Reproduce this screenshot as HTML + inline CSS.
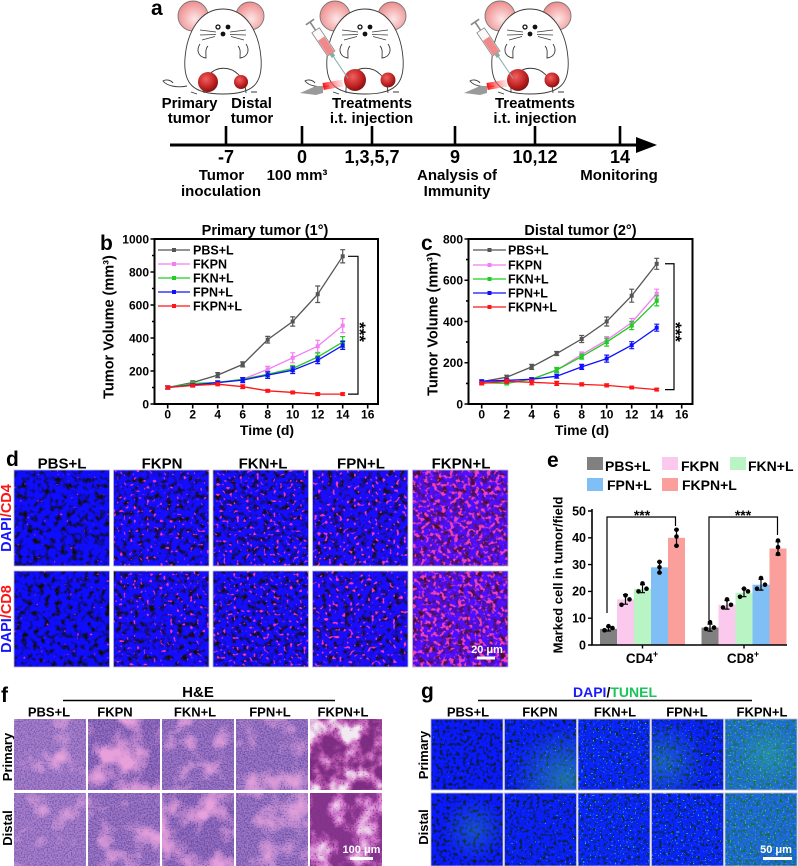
<!DOCTYPE html>
<html><head><meta charset="utf-8"><style>
html,body{margin:0;padding:0;background:#fff;}
svg{display:block;}
text{font-family:"Liberation Sans",Arial,sans-serif;font-weight:bold;}
</style></head><body>
<svg width="798" height="866" viewBox="0 0 798 866" xmlns="http://www.w3.org/2000/svg">
<defs>
<radialGradient id="ear" cx="0.55" cy="0.6" r="0.6"><stop offset="0" stop-color="#fde6e6"/><stop offset="1" stop-color="#ee8c8c"/></radialGradient>
<radialGradient id="tum" cx="0.4" cy="0.35" r="0.65"><stop offset="0" stop-color="#f06060"/><stop offset="0.6" stop-color="#c62828"/><stop offset="1" stop-color="#8a1010"/></radialGradient>
<linearGradient id="beam" x1="0" x2="1"><stop offset="0" stop-color="#ff1010"/><stop offset="1" stop-color="#ff9a9a" stop-opacity="0.3"/></linearGradient>
<radialGradient id="gg1" cx="0.85" cy="0.85" r="0.75"><stop offset="0" stop-color="#3ad27a" stop-opacity="0.45"/><stop offset="1" stop-color="#3ad27a" stop-opacity="0"/></radialGradient>
<radialGradient id="gg2" cx="0.15" cy="0.6" r="0.6"><stop offset="0" stop-color="#3ad27a" stop-opacity="0.35"/><stop offset="1" stop-color="#3ad27a" stop-opacity="0"/></radialGradient>
<radialGradient id="gg3" cx="0.6" cy="0.5" r="0.45"><stop offset="0" stop-color="#3ad27a" stop-opacity="0.28"/><stop offset="1" stop-color="#3ad27a" stop-opacity="0"/></radialGradient>

<marker id="mG" markerUnits="userSpaceOnUse" markerWidth="5" markerHeight="5" refX="2.5" refY="2.5" viewBox="0 0 5 5"><rect x="0.5" y="0.5" width="4" height="4" fill="#555"/></marker>
<marker id="mP" markerUnits="userSpaceOnUse" markerWidth="5" markerHeight="5" refX="2.5" refY="2.5" viewBox="0 0 5 5"><rect x="0.5" y="0.5" width="4" height="4" fill="#f27ef2"/></marker>
<marker id="mN" markerUnits="userSpaceOnUse" markerWidth="5" markerHeight="5" refX="2.5" refY="2.5" viewBox="0 0 5 5"><rect x="0.5" y="0.5" width="4" height="4" fill="#22cc22"/></marker>
<marker id="mB" markerUnits="userSpaceOnUse" markerWidth="5" markerHeight="5" refX="2.5" refY="2.5" viewBox="0 0 5 5"><rect x="0.5" y="0.5" width="4" height="4" fill="#1010ff"/></marker>
<marker id="mR" markerUnits="userSpaceOnUse" markerWidth="5" markerHeight="5" refX="2.5" refY="2.5" viewBox="0 0 5 5"><rect x="0.5" y="0.5" width="4" height="4" fill="#ff1515"/></marker>

<!-- d filters -->
<filter id="dF0" x="0" y="0" width="1" height="1" color-interpolation-filters="sRGB">
<feTurbulence type="fractalNoise" baseFrequency="0.18" numOctaves="2" seed="3" result="a"/>
<feColorMatrix in="a" type="matrix" values="0 0 0 0 0.06 0 0 0 0 0.05 3 0 0 0 -0.6 0 0 0 0 1" result="b"/>
<feTurbulence type="fractalNoise" baseFrequency="0.3" numOctaves="1" seed="11" result="c"/>
<feColorMatrix in="c" type="matrix" values="0 0 0 0 1 0 0 0 0 0.15 0 0 0 0 0.55 12 0 0 0 -8.5" result="p"/>
<feComposite in="p" in2="b" operator="over"/>
</filter>
<filter id="dF1" x="0" y="0" width="1" height="1" color-interpolation-filters="sRGB">
<feTurbulence type="fractalNoise" baseFrequency="0.18" numOctaves="2" seed="5" result="a"/>
<feColorMatrix in="a" type="matrix" values="0 0 0 0 0.08 0 0 0 0 0.05 3 0 0 0 -0.58 0 0 0 0 1" result="b"/>
<feTurbulence type="fractalNoise" baseFrequency="0.3" numOctaves="1" seed="17" result="c"/>
<feColorMatrix in="c" type="matrix" values="0 0 0 0 0.95 0 0 0 0 0.2 0 0 0 0 0.7 12 0 0 0 -7.7" result="p"/>
<feComposite in="p" in2="b" operator="over"/>
</filter>
<filter id="dF2" x="0" y="0" width="1" height="1" color-interpolation-filters="sRGB">
<feTurbulence type="fractalNoise" baseFrequency="0.19" numOctaves="2" seed="7" result="a"/>
<feColorMatrix in="a" type="matrix" values="0 0 0 0 0.08 0 0 0 0 0.05 3 0 0 0 -0.6 0 0 0 0 1" result="b"/>
<feTurbulence type="fractalNoise" baseFrequency="0.3" numOctaves="1" seed="23" result="c"/>
<feColorMatrix in="c" type="matrix" values="0 0 0 0 0.95 0 0 0 0 0.2 0 0 0 0 0.7 12 0 0 0 -7.6" result="p"/>
<feComposite in="p" in2="b" operator="over"/>
</filter>
<filter id="dF3" x="0" y="0" width="1" height="1" color-interpolation-filters="sRGB">
<feTurbulence type="fractalNoise" baseFrequency="0.18" numOctaves="2" seed="9" result="a"/>
<feColorMatrix in="a" type="matrix" values="0 0 0 0 0.1 0 0 0 0 0.05 3 0 0 0 -0.58 0 0 0 0 1" result="b"/>
<feTurbulence type="fractalNoise" baseFrequency="0.28" numOctaves="1" seed="29" result="c"/>
<feColorMatrix in="c" type="matrix" values="0 0 0 0 0.97 0 0 0 0 0.22 0 0 0 0 0.72 12 0 0 0 -7.4" result="p"/>
<feComposite in="p" in2="b" operator="over"/>
</filter>
<filter id="dF4" x="0" y="0" width="1" height="1" color-interpolation-filters="sRGB">
<feTurbulence type="fractalNoise" baseFrequency="0.17" numOctaves="2" seed="13" result="a"/>
<feColorMatrix in="a" type="matrix" values="0 0 0 0 0.3 0 0 0 0 0.06 2.6 0 0 0 -0.45 0 0 0 0 1" result="b"/>
<feTurbulence type="fractalNoise" baseFrequency="0.24" numOctaves="2" seed="31" result="c"/>
<feColorMatrix in="c" type="matrix" values="0 0 0 0 0.95 0 0 0 0 0.25 0 0 0 0 0.72 7 0 0 0 -3.7" result="p"/>
<feComposite in="p" in2="b" operator="over"/>
</filter>

<!-- g (TUNEL) filters -->
<filter id="gF0" x="0" y="0" width="1" height="1" color-interpolation-filters="sRGB">
<feTurbulence type="fractalNoise" baseFrequency="0.3" numOctaves="2" seed="41" result="a"/>
<feColorMatrix in="a" type="matrix" values="0 0 0 0 0.04 0 0 0 0 0.1 3 0 0 0 -0.55 0 0 0 0 1" result="b"/>
<feTurbulence type="fractalNoise" baseFrequency="0.6" numOctaves="1" seed="43" result="c"/>
<feColorMatrix in="c" type="matrix" values="0 0 0 0 0.15 0 0 0 0 0.85 0 0 0 0 0.45 14 0 0 0 -10.6" result="p"/>
<feComposite in="p" in2="b" operator="over"/>
</filter>
<filter id="gF1" x="0" y="0" width="1" height="1" color-interpolation-filters="sRGB">
<feTurbulence type="fractalNoise" baseFrequency="0.3" numOctaves="2" seed="45" result="a"/>
<feColorMatrix in="a" type="matrix" values="0 0 0 0 0.04 0 0 0 0 0.12 3 0 0 0 -0.55 0 0 0 0 1" result="b"/>
<feTurbulence type="fractalNoise" baseFrequency="0.6" numOctaves="1" seed="47" result="c"/>
<feColorMatrix in="c" type="matrix" values="0 0 0 0 0.15 0 0 0 0 0.85 0 0 0 0 0.45 14 0 0 0 -9.8" result="p"/>
<feComposite in="p" in2="b" operator="over"/>
</filter>
<filter id="gF2" x="0" y="0" width="1" height="1" color-interpolation-filters="sRGB">
<feTurbulence type="fractalNoise" baseFrequency="0.32" numOctaves="2" seed="49" result="a"/>
<feColorMatrix in="a" type="matrix" values="0 0 0 0 0.04 0 0 0 0 0.14 3 0 0 0 -0.5 0 0 0 0 1" result="b"/>
<feTurbulence type="fractalNoise" baseFrequency="0.6" numOctaves="1" seed="51" result="c"/>
<feColorMatrix in="c" type="matrix" values="0 0 0 0 0.15 0 0 0 0 0.85 0 0 0 0 0.7 14 0 0 0 -9.3" result="p"/>
<feComposite in="p" in2="b" operator="over"/>
</filter>
<filter id="gF3" x="0" y="0" width="1" height="1" color-interpolation-filters="sRGB">
<feTurbulence type="fractalNoise" baseFrequency="0.3" numOctaves="2" seed="53" result="a"/>
<feColorMatrix in="a" type="matrix" values="0 0 0 0 0.04 0 0 0 0 0.13 3 0 0 0 -0.55 0 0 0 0 1" result="b"/>
<feTurbulence type="fractalNoise" baseFrequency="0.6" numOctaves="1" seed="55" result="c"/>
<feColorMatrix in="c" type="matrix" values="0 0 0 0 0.15 0 0 0 0 0.85 0 0 0 0 0.65 14 0 0 0 -9.5" result="p"/>
<feComposite in="p" in2="b" operator="over"/>
</filter>
<filter id="gF4" x="0" y="0" width="1" height="1" color-interpolation-filters="sRGB">
<feTurbulence type="fractalNoise" baseFrequency="0.3" numOctaves="2" seed="57" result="a"/>
<feColorMatrix in="a" type="matrix" values="0 0 0 0 0.08 0 0 0 0 0.3 2.5 0 0 0 -0.35 0 0 0 0 1" result="b"/>
<feTurbulence type="fractalNoise" baseFrequency="0.6" numOctaves="1" seed="59" result="c"/>
<feColorMatrix in="c" type="matrix" values="0 0 0 0 0.2 0 0 0 0 0.8 0 0 0 0 0.45 12 0 0 0 -7.6" result="p"/>
<feComposite in="p" in2="b" operator="over"/>
</filter>

<!-- H&E filters -->
<filter id="hF0" x="0" y="0" width="1" height="1" color-interpolation-filters="sRGB">
<feTurbulence type="fractalNoise" baseFrequency="0.04" numOctaves="3" seed="2" result="m"/>
<feColorMatrix in="m" type="matrix" values="3 0 0 0 -1.7 3 0 0 0 -1.7 3 0 0 0 -1.7 0 0 0 0 1" result="g"/>
<feComponentTransfer in="g" result="base"><feFuncR type="table" tableValues="0.66 0.9"/><feFuncG type="table" tableValues="0.5 0.64"/><feFuncB type="table" tableValues="0.8 0.86"/></feComponentTransfer>
<feColorMatrix in="g" type="matrix" values="0 0 0 0 0 0 0 0 0 0 0 0 0 0 0 -1 0 0 0 1" result="mi"/>
<feTurbulence type="fractalNoise" baseFrequency="0.7" numOctaves="1" seed="9" result="s"/>
<feColorMatrix in="s" type="matrix" values="0 0 0 0 0 0 0 0 0 0 0 0 0 0 0 1 0 0 0 0" result="sa"/>
<feComposite in="sa" in2="mi" operator="arithmetic" k1="0" k2="4" k3="1.2" k4="-2.9" result="mask"/>
<feFlood flood-color="#7a5cb0" result="fl"/>
<feComposite in="fl" in2="mask" operator="in" result="dots"/>
<feComposite in="dots" in2="base" operator="over"/>
</filter>
<filter id="hF1" x="0" y="0" width="1" height="1" color-interpolation-filters="sRGB">
<feTurbulence type="fractalNoise" baseFrequency="0.035" numOctaves="3" seed="14" result="m"/>
<feColorMatrix in="m" type="matrix" values="3.2 0 0 0 -1.35 3.2 0 0 0 -1.35 3.2 0 0 0 -1.35 0 0 0 0 1" result="g"/>
<feComponentTransfer in="g" result="base"><feFuncR type="table" tableValues="0.6 0.91"/><feFuncG type="table" tableValues="0.44 0.63"/><feFuncB type="table" tableValues="0.76 0.86"/></feComponentTransfer>
<feColorMatrix in="g" type="matrix" values="0 0 0 0 0 0 0 0 0 0 0 0 0 0 0 -1 0 0 0 1" result="mi"/>
<feTurbulence type="fractalNoise" baseFrequency="0.7" numOctaves="1" seed="19" result="s"/>
<feColorMatrix in="s" type="matrix" values="0 0 0 0 0 0 0 0 0 0 0 0 0 0 0 1 0 0 0 0" result="sa"/>
<feComposite in="sa" in2="mi" operator="arithmetic" k1="0" k2="4" k3="1.2" k4="-2.8" result="mask"/>
<feFlood flood-color="#6a4ea6" result="fl"/>
<feComposite in="fl" in2="mask" operator="in" result="dots"/>
<feComposite in="dots" in2="base" operator="over"/>
</filter>
<filter id="hF2" x="0" y="0" width="1" height="1" color-interpolation-filters="sRGB">
<feTurbulence type="fractalNoise" baseFrequency="0.04" numOctaves="3" seed="26" result="m"/>
<feColorMatrix in="m" type="matrix" values="3 0 0 0 -1.5 3 0 0 0 -1.5 3 0 0 0 -1.5 0 0 0 0 1" result="g"/>
<feComponentTransfer in="g" result="base"><feFuncR type="table" tableValues="0.63 0.9"/><feFuncG type="table" tableValues="0.47 0.63"/><feFuncB type="table" tableValues="0.78 0.86"/></feComponentTransfer>
<feColorMatrix in="g" type="matrix" values="0 0 0 0 0 0 0 0 0 0 0 0 0 0 0 -1 0 0 0 1" result="mi"/>
<feTurbulence type="fractalNoise" baseFrequency="0.7" numOctaves="1" seed="27" result="s"/>
<feColorMatrix in="s" type="matrix" values="0 0 0 0 0 0 0 0 0 0 0 0 0 0 0 1 0 0 0 0" result="sa"/>
<feComposite in="sa" in2="mi" operator="arithmetic" k1="0" k2="4" k3="1.2" k4="-2.85" result="mask"/>
<feFlood flood-color="#7054aa" result="fl"/>
<feComposite in="fl" in2="mask" operator="in" result="dots"/>
<feComposite in="dots" in2="base" operator="over"/>
</filter>
<filter id="hF3" x="0" y="0" width="1" height="1" color-interpolation-filters="sRGB">
<feTurbulence type="fractalNoise" baseFrequency="0.035" numOctaves="3" seed="33" result="m"/>
<feColorMatrix in="m" type="matrix" values="3 0 0 0 -1.4 3 0 0 0 -1.4 3 0 0 0 -1.4 0 0 0 0 1" result="g"/>
<feComponentTransfer in="g" result="base"><feFuncR type="table" tableValues="0.63 0.91"/><feFuncG type="table" tableValues="0.47 0.64"/><feFuncB type="table" tableValues="0.78 0.86"/></feComponentTransfer>
<feColorMatrix in="g" type="matrix" values="0 0 0 0 0 0 0 0 0 0 0 0 0 0 0 -1 0 0 0 1" result="mi"/>
<feTurbulence type="fractalNoise" baseFrequency="0.7" numOctaves="1" seed="37" result="s"/>
<feColorMatrix in="s" type="matrix" values="0 0 0 0 0 0 0 0 0 0 0 0 0 0 0 1 0 0 0 0" result="sa"/>
<feComposite in="sa" in2="mi" operator="arithmetic" k1="0" k2="4" k3="1.2" k4="-2.85" result="mask"/>
<feFlood flood-color="#7054aa" result="fl"/>
<feComposite in="fl" in2="mask" operator="in" result="dots"/>
<feComposite in="dots" in2="base" operator="over"/>
</filter>
<filter id="hF4" x="0" y="0" width="1" height="1" color-interpolation-filters="sRGB">
<feTurbulence type="fractalNoise" baseFrequency="0.05" numOctaves="3" seed="61" result="m"/>
<feColorMatrix in="m" type="matrix" values="2.6 0 0 0 -0.95 2.6 0 0 0 -0.95 2.6 0 0 0 -0.95 0 0 0 0 1" result="g"/>
<feComponentTransfer in="g" result="base"><feFuncR type="table" tableValues="0.5 0.68 0.82 0.9 0.95"/><feFuncG type="table" tableValues="0.16 0.3 0.46 0.74 0.92"/><feFuncB type="table" tableValues="0.5 0.64 0.78 0.88 0.95"/></feComponentTransfer>
<feColorMatrix in="g" type="matrix" values="0 0 0 0 0 0 0 0 0 0 0 0 0 0 0 -1 0 0 0 1" result="mi"/>
<feTurbulence type="fractalNoise" baseFrequency="0.6" numOctaves="1" seed="63" result="s"/>
<feColorMatrix in="s" type="matrix" values="0 0 0 0 0 0 0 0 0 0 0 0 0 0 0 1 0 0 0 0" result="sa"/>
<feComposite in="sa" in2="mi" operator="arithmetic" k1="0" k2="4" k3="1.2" k4="-2.8" result="mask"/>
<feFlood flood-color="#7a3488" result="fl"/>
<feComposite in="fl" in2="mask" operator="in" result="dots"/>
<feComposite in="dots" in2="base" operator="over"/>
</filter>
<filter id="hF5" x="0" y="0" width="1" height="1" color-interpolation-filters="sRGB">
<feTurbulence type="fractalNoise" baseFrequency="0.045" numOctaves="3" seed="67" result="m"/>
<feColorMatrix in="m" type="matrix" values="2.4 0 0 0 -1.0 2.4 0 0 0 -1.0 2.4 0 0 0 -1.0 0 0 0 0 1" result="g"/>
<feComponentTransfer in="g" result="base"><feFuncR type="table" tableValues="0.55 0.72 0.84 0.9 0.94"/><feFuncG type="table" tableValues="0.2 0.34 0.5 0.7 0.9"/><feFuncB type="table" tableValues="0.56 0.7 0.82 0.88 0.94"/></feComponentTransfer>
<feColorMatrix in="g" type="matrix" values="0 0 0 0 0 0 0 0 0 0 0 0 0 0 0 -1 0 0 0 1" result="mi"/>
<feTurbulence type="fractalNoise" baseFrequency="0.6" numOctaves="1" seed="69" result="s"/>
<feColorMatrix in="s" type="matrix" values="0 0 0 0 0 0 0 0 0 0 0 0 0 0 0 1 0 0 0 0" result="sa"/>
<feComposite in="sa" in2="mi" operator="arithmetic" k1="0" k2="4" k3="1.2" k4="-2.8" result="mask"/>
<feFlood flood-color="#7a3488" result="fl"/>
<feComposite in="fl" in2="mask" operator="in" result="dots"/>
<feComposite in="dots" in2="base" operator="over"/>
</filter>

<g id="mouse" stroke="#3a3a3a" stroke-width="0.9" fill="none">
 <path d="M-36 86 C-46 88 -56 86 -60 81 C-57 79 -52 80 -50 83"/>
 <circle cx="-30" cy="16" r="15" fill="url(#ear)" stroke="#777"/>
 <circle cx="27" cy="16" r="14" fill="url(#ear)" stroke="#777"/>
 <path d="M0 9 C23 9 36 32 38 58 C40 84 30 94 0 94 C-30 94 -40 84 -38 58 C-36 32 -23 9 0 9Z" fill="#fff"/>
 <circle cx="-5" cy="27" r="2" fill="#fff" stroke="#111" stroke-width="1.3"/>
 <circle cx="5" cy="27" r="2.4" fill="#111" stroke="none"/>
 <circle cx="0" cy="34" r="2.4" fill="#111" stroke="none"/>
 <path d="M-7 32 L-23 30 M-7 34.5 L-23 35 M-8 36.5 L-21 40 M7 32 L23 30 M7 34.5 L23 35 M8 36.5 L21 40" stroke-width="0.7"/>
 <path d="M-23 44 C-27 50 -25 57 -17 58 C-17 53 -18 49 -15 46"/>
 <path d="M23 44 C27 50 25 57 17 58 C17 53 18 49 15 46"/>
 <path d="M-19 93 C-21 60 21 60 23 93"/>
 <path d="M-32 92 L-26 94 M28 92 L34 92"/>
</g>
<g id="syr">
 <path d="M0 -5 V5" stroke="#888" stroke-width="1.6"/>
 <path d="M0 0 H10" stroke="#888" stroke-width="1.6"/>
 <rect x="10" y="-4.5" width="28" height="9" fill="#fafafa" stroke="#888" stroke-width="0.8"/>
 <rect x="20" y="-3.8" width="18" height="7.6" fill="#f08a8a"/>
 <rect x="38" y="-2" width="4" height="4" fill="#7fb0a0"/>
 <path d="M42 0 H68" stroke="#8aa" stroke-width="1"/>
</g>
</defs>

<!-- ================= Panel a ================= -->
<text x="151" y="15" font-size="21">a</text>
<use href="#mouse" transform="translate(223,0)"/>
<use href="#mouse" transform="translate(365,0)"/>
<use href="#mouse" transform="translate(530,0)"/>
<circle cx="208" cy="82" r="10" fill="url(#tum)"/>
<circle cx="241" cy="82" r="7" fill="url(#tum)"/>
<circle cx="355" cy="80" r="11" fill="url(#tum)"/>
<circle cx="388" cy="80" r="7.5" fill="url(#tum)"/>
<circle cx="518" cy="80" r="11" fill="url(#tum)"/>
<circle cx="552" cy="80" r="7.5" fill="url(#tum)"/>
<use href="#syr" transform="translate(310,22) rotate(56)"/>
<use href="#syr" transform="translate(475,22) rotate(56)"/>
<polygon points="300,93 316,86 323,86 323,93 316,95" fill="#9a9a9a"/>
<rect x="323" y="83" width="20" height="7" fill="url(#beam)" transform="rotate(-10 323 86)"/>
<polygon points="464,93 480,86 487,86 487,93 480,95" fill="#9a9a9a"/>
<rect x="487" y="83" width="20" height="7" fill="url(#beam)" transform="rotate(-10 487 86)"/>

<g font-size="15" text-anchor="middle">
<text x="189.5" y="108">Primary</text>
<text x="189" y="123">tumor</text>
<text x="251.5" y="108">Distal</text>
<text x="252" y="123">tumor</text>
<text x="372" y="108">Treatments</text>
<text x="371.5" y="123">i.t. injection</text>
<text x="535" y="108">Treatments</text>
<text x="535" y="123">i.t. injection</text>
</g>
<path d="M170 145 H640" stroke="#000" stroke-width="3"/>
<polygon points="636,137 657,145 636,153" fill="#000"/>
<path d="M226 126 V145 M302 126 V145 M372 126 V145 M455 126 V145 M535 126 V145 M620 126 V145" stroke="#000" stroke-width="2.6"/>
<g font-size="18" text-anchor="middle">
<text x="226" y="163">-7</text>
<text x="302" y="163">0</text>
<text x="372" y="163">1,3,5,7</text>
<text x="455" y="163">9</text>
<text x="535" y="163">10,12</text>
<text x="620" y="163">14</text>
</g>
<g font-size="15" text-anchor="middle">
<text x="221.5" y="180">Tumor</text>
<text x="221" y="196">inoculation</text>
<text x="297" y="180">100 mm³</text>
<text x="457" y="180">Analysis of</text>
<text x="457" y="196">Immunity</text>
<text x="619" y="180">Monitoring</text>
</g>

<!-- ================= Panel b ================= -->
<text x="100" y="250" font-size="21">b</text>
<text x="265" y="235" font-size="14.5" text-anchor="middle">Primary tumor (1°)</text>
<rect x="154.5" y="239" width="223.5" height="165" fill="none" stroke="#000" stroke-width="2"/>
<path d="M154.5 404H150.5M154.5 371H150.5M154.5 338H150.5M154.5 305H150.5M154.5 272H150.5M154.5 239H150.5M154.5 387.5H152M154.5 354.5H152M154.5 321.5H152M154.5 288.5H152M154.5 255.5H152" stroke="#000" stroke-width="1.6"/>
<path d="M167.7 404V408.5M192.7 404V408.5M217.7 404V408.5M242.7 404V408.5M267.7 404V408.5M292.7 404V408.5M317.7 404V408.5M342.7 404V408.5M367.7 404V408.5" stroke="#000" stroke-width="1.6"/>
<g font-size="12" text-anchor="end">
<text x="149" y="408.3">0</text><text x="149" y="375.3">200</text><text x="149" y="342.3">400</text><text x="149" y="309.3">600</text><text x="149" y="276.3">800</text><text x="149" y="243.3">1000</text>
</g>
<g font-size="12" text-anchor="middle">
<text x="167.7" y="418.6">0</text><text x="192.7" y="418.6">2</text><text x="217.7" y="418.6">4</text><text x="242.7" y="418.6">6</text><text x="267.7" y="418.6">8</text><text x="292.7" y="418.6">10</text><text x="317.7" y="418.6">12</text><text x="342.7" y="418.6">14</text><text x="367.7" y="418.6">16</text>
</g>
<text x="267" y="435" font-size="14" text-anchor="middle">Time (d)</text>
<text transform="translate(113.5,327) rotate(-90)" font-size="14.5" text-anchor="middle">Tumor Volume (mm³)</text>

<g fill="none" stroke-width="1.2">
<path stroke="#555" d="M167.7 386V389M165.2 386h5M165.2 389h5M192.7 380.9V384.2M190.2 380.9h5M190.2 384.2h5M217.7 372.6V377.6M215.2 372.6h5M215.2 377.6h5M242.7 361.9V366.9M240.2 361.9h5M240.2 366.9h5M267.7 336.4V343M265.2 336.4h5M265.2 343h5M292.7 316.9V326.1M290.2 316.9h5M290.2 326.1h5M317.7 286V302.5M315.2 286h5M315.2 302.5h5M342.7 249.7V262.9M340.2 249.7h5M340.2 262.9h5"/>
<polyline stroke="#555" stroke-width="1.3" marker-start="url(#mG)" marker-mid="url(#mG)" marker-end="url(#mG)" points="167.7,387.5 192.7,382.55 217.7,375.1 242.7,364.4 267.7,339.65 292.7,321.5 317.7,294.2 342.7,256.3"/>
<path stroke="#f27ef2" d="M167.7 386V389M165.2 386h5M165.2 389h5M192.7 382.7V385.7M190.2 382.7h5M190.2 385.7h5M217.7 381V384.1M215.2 381h5M215.2 384.1h5M242.7 377.6V380.9M240.2 377.6h5M240.2 380.9h5M267.7 366.4V372.4M265.2 366.4h5M265.2 372.4h5M292.7 352.8V362.8M290.2 352.8h5M290.2 362.8h5M317.7 340.3V352.3M315.2 340.3h5M315.2 352.3h5M342.7 318.6V332.6M340.2 318.6h5M340.2 332.6h5"/>
<polyline stroke="#f27ef2" stroke-width="1.3" marker-start="url(#mP)" marker-mid="url(#mP)" marker-end="url(#mP)" points="167.7,387.5 192.7,384.2 217.7,382.55 242.7,379.25 267.7,369.35 292.7,357.8 317.7,346.25 342.7,325.6"/>
<path stroke="#22cc22" d="M167.7 386V389M165.2 386h5M165.2 389h5M192.7 381.9V384.9M190.2 381.9h5M190.2 384.9h5M217.7 381V384.1M215.2 381h5M215.2 384.1h5M242.7 377.6V380.9M240.2 377.6h5M240.2 380.9h5M267.7 371.8V376.8M265.2 371.8h5M265.2 376.8h5M292.7 365.5V371.5M290.2 365.5h5M290.2 371.5h5M317.7 353V361M315.2 353h5M315.2 361h5M342.7 336.6V347.6M340.2 336.6h5M340.2 347.6h5"/>
<polyline stroke="#22cc22" stroke-width="1.3" marker-start="url(#mN)" marker-mid="url(#mN)" marker-end="url(#mN)" points="167.7,387.5 192.7,383.4 217.7,382.55 242.7,379.25 267.7,374.3 292.7,368.5 317.7,357 342.7,342.1"/>
<path stroke="#1010ff" d="M167.7 386V389M165.2 386h5M165.2 389h5M192.7 383.5V386.5M190.2 383.5h5M190.2 386.5h5M217.7 381V384.1M215.2 381h5M215.2 384.1h5M242.7 377.6V382.6M240.2 377.6h5M240.2 382.6h5M267.7 371.8V378.4M265.2 371.8h5M265.2 378.4h5M292.7 366.9V373.5M290.2 366.9h5M290.2 373.5h5M317.7 357V363.6M315.2 357h5M315.2 363.6h5M342.7 341.4V349.4M340.2 341.4h5M340.2 349.4h5"/>
<polyline stroke="#1010ff" stroke-width="1.3" marker-start="url(#mB)" marker-mid="url(#mB)" marker-end="url(#mB)" points="167.7,387.5 192.7,385 217.7,382.55 242.7,380.1 267.7,375.1 292.7,370.2 317.7,360.3 342.7,345.4"/>
<path stroke="#ff1515" d="M167.7 386V389M165.2 386h5M165.2 389h5M192.7 384V387M190.2 384h5M190.2 387h5M217.7 382.7V385.7M215.2 382.7h5M215.2 385.7h5M242.7 384.9V388.5M240.2 384.9h5M240.2 388.5h5M267.7 389.6V392M265.2 389.6h5M265.2 392h5M292.7 391.3V393.7M290.2 391.3h5M290.2 393.7h5M317.7 392.9V395.3M315.2 392.9h5M315.2 395.3h5M342.7 392.9V395.3M340.2 392.9h5M340.2 395.3h5"/>
<polyline stroke="#ff1515" stroke-width="1.3" marker-start="url(#mR)" marker-mid="url(#mR)" marker-end="url(#mR)" points="167.7,387.5 192.7,385.5 217.7,384.2 242.7,386.7 267.7,390.8 292.7,392.45 317.7,394.1 342.7,394.1"/>
</g>
<g fill="none" stroke-width="1.3">
<polyline stroke="#555" marker-mid="url(#mG)" points="158,250 174,250 190,250"/>
<polyline stroke="#f27ef2" marker-mid="url(#mP)" points="158,264 174,264 190,264"/>
<polyline stroke="#22cc22" marker-mid="url(#mN)" points="158,278 174,278 190,278"/>
<polyline stroke="#1010ff" marker-mid="url(#mB)" points="158,292 174,292 190,292"/>
<polyline stroke="#ff1515" marker-mid="url(#mR)" points="158,306 174,306 190,306"/>
</g>
<g font-size="12.5">
<text x="193" y="254.5">PBS+L</text><text x="193" y="268.5">FKPN</text><text x="193" y="282.5">FKN+L</text><text x="193" y="296.5">FPN+L</text><text x="193" y="310.5">FKPN+L</text>
</g>
<path d="M348 256.3H358V394.1H348" fill="none" stroke="#000" stroke-width="1.2"/>
<text transform="translate(354,332) rotate(90)" font-size="17" text-anchor="middle">***</text>

<!-- ================= Panel c ================= -->
<text x="421" y="250" font-size="21">c</text>
<text x="580.5" y="235" font-size="14.5" text-anchor="middle">Distal tumor (2°)</text>
<rect x="468.5" y="239" width="224" height="165" fill="none" stroke="#000" stroke-width="2"/>
<path d="M468.5 404H464.5M468.5 362.75H464.5M468.5 321.5H464.5M468.5 280.25H464.5M468.5 239H464.5M468.5 383.4H466M468.5 342.1H466M468.5 300.9H466M468.5 259.6H466" stroke="#000" stroke-width="1.6"/>
<path d="M481.7 404V408.5M506.7 404V408.5M531.7 404V408.5M556.7 404V408.5M581.7 404V408.5M606.7 404V408.5M631.7 404V408.5M656.7 404V408.5M681.7 404V408.5" stroke="#000" stroke-width="1.6"/>
<g font-size="12" text-anchor="end">
<text x="463" y="408.3">0</text><text x="463" y="367">200</text><text x="463" y="325.8">400</text><text x="463" y="284.5">600</text><text x="463" y="243.3">800</text>
</g>
<g font-size="12" text-anchor="middle">
<text x="481.7" y="418.6">0</text><text x="506.7" y="418.6">2</text><text x="531.7" y="418.6">4</text><text x="556.7" y="418.6">6</text><text x="581.7" y="418.6">8</text><text x="606.7" y="418.6">10</text><text x="631.7" y="418.6">12</text><text x="656.7" y="418.6">14</text><text x="681.7" y="418.6">16</text>
</g>
<text x="582" y="435" font-size="14" text-anchor="middle">Time (d)</text>
<text transform="translate(437.5,324) rotate(-90)" font-size="14.5" text-anchor="middle">Tumor Volume (mm³)</text>

<g fill="none" stroke-width="1.2">
<path stroke="#555" d="M481.7 380.2V383.2M479.2 380.2h5M479.2 383.2h5M506.7 375.2V379.2M504.2 375.2h5M504.2 379.2h5M531.7 364.4V369.4M529.2 364.4h5M529.2 369.4h5M556.7 351.5V355.5M554.2 351.5h5M554.2 355.5h5M581.7 335.5V342.5M579.2 335.5h5M579.2 342.5h5M606.7 317V326M604.2 317h5M604.2 326h5M631.7 289.2V302.2M629.2 289.2h5M629.2 302.2h5M656.7 258.3V269.3M654.2 258.3h5M654.2 269.3h5"/>
<polyline stroke="#555" stroke-width="1.3" marker-start="url(#mG)" marker-mid="url(#mG)" marker-end="url(#mG)" points="481.7,381.7 506.7,377.2 531.7,366.9 556.7,353.5 581.7,339 606.7,321.5 631.7,295.7 656.7,263.75"/>
<path stroke="#f27ef2" d="M481.7 380.8V383.8M479.2 380.8h5M479.2 383.8h5M506.7 379.4V382.4M504.2 379.4h5M504.2 382.4h5M531.7 377.8V380.8M529.2 377.8h5M529.2 380.8h5M556.7 368V372M554.2 368h5M554.2 372h5M581.7 352V357M579.2 352h5M579.2 357h5M606.7 336.6V343.6M604.2 336.6h5M604.2 343.6h5M631.7 318.5V326.5M629.2 318.5h5M629.2 326.5h5M656.7 289.2V298.2M654.2 289.2h5M654.2 298.2h5"/>
<polyline stroke="#f27ef2" stroke-width="1.3" marker-start="url(#mP)" marker-mid="url(#mP)" marker-end="url(#mP)" points="481.7,382.3 506.7,380.9 531.7,379.25 556.7,370 581.7,354.5 606.7,340.1 631.7,322.5 656.7,293.7"/>
<path stroke="#22cc22" d="M481.7 381.3V384.3M479.2 381.3h5M479.2 384.3h5M506.7 381.9V384.9M504.2 381.9h5M504.2 384.9h5M531.7 377.8V380.8M529.2 377.8h5M529.2 380.8h5M556.7 367.5V372.5M554.2 367.5h5M554.2 372.5h5M581.7 354.1V359.1M579.2 354.1h5M579.2 359.1h5M606.7 338.1V346.1M604.2 338.1h5M604.2 346.1h5M631.7 321.6V329.6M629.2 321.6h5M629.2 329.6h5M656.7 295.9V305.9M654.2 295.9h5M654.2 305.9h5"/>
<polyline stroke="#22cc22" stroke-width="1.3" marker-start="url(#mN)" marker-mid="url(#mN)" marker-end="url(#mN)" points="481.7,382.75 506.7,383.4 531.7,379.25 556.7,370 581.7,356.6 606.7,342.1 631.7,325.6 656.7,300.9"/>
<path stroke="#1010ff" d="M481.7 379.8V382.8M479.2 379.8h5M479.2 382.8h5M506.7 378.8V381.8M504.2 378.8h5M504.2 381.8h5M531.7 377.8V380.8M529.2 377.8h5M529.2 380.8h5M556.7 374.2V378.2M554.2 374.2h5M554.2 378.2h5M581.7 364.4V369.4M579.2 364.4h5M579.2 369.4h5M606.7 355.1V362.1M604.2 355.1h5M604.2 362.1h5M631.7 341.7V348.7M629.2 341.7h5M629.2 348.7h5M656.7 324.2V331.2M654.2 324.2h5M654.2 331.2h5"/>
<polyline stroke="#1010ff" stroke-width="1.3" marker-start="url(#mB)" marker-mid="url(#mB)" marker-end="url(#mB)" points="481.7,381.3 506.7,380.3 531.7,379.25 556.7,376.2 581.7,366.9 606.7,358.6 631.7,345.2 656.7,327.7"/>
<path stroke="#ff1515" d="M481.7 381.9V384.9M479.2 381.9h5M479.2 384.9h5M506.7 379.3V383.3M504.2 379.3h5M504.2 383.3h5M531.7 379.8V384.8M529.2 379.8h5M529.2 384.8h5M556.7 381.4V385.4M554.2 381.4h5M554.2 385.4h5M581.7 382.9V385.9M579.2 382.9h5M579.2 385.9h5M606.7 383.9V386.9M604.2 383.9h5M604.2 386.9h5M631.7 386.3V388.7M629.2 386.3h5M629.2 388.7h5M656.7 388.4V390.8M654.2 388.4h5M654.2 390.8h5"/>
<polyline stroke="#ff1515" stroke-width="1.3" marker-start="url(#mR)" marker-mid="url(#mR)" marker-end="url(#mR)" points="481.7,383.4 506.7,381.3 531.7,382.3 556.7,383.4 581.7,384.4 606.7,385.4 631.7,387.5 656.7,389.6"/>
</g>
<g fill="none" stroke-width="1.3">
<polyline stroke="#555" marker-mid="url(#mG)" points="473,250 489.5,250 506,250"/>
<polyline stroke="#f27ef2" marker-mid="url(#mP)" points="473,265 489.5,265 506,265"/>
<polyline stroke="#22cc22" marker-mid="url(#mN)" points="473,279 489.5,279 506,279"/>
<polyline stroke="#1010ff" marker-mid="url(#mB)" points="473,293 489.5,293 506,293"/>
<polyline stroke="#ff1515" marker-mid="url(#mR)" points="473,307 489.5,307 506,307"/>
</g>
<g font-size="12.5">
<text x="508" y="254.5">PBS+L</text><text x="508" y="269.5">FKPN</text><text x="508" y="283.5">FKN+L</text><text x="508" y="297.5">FPN+L</text><text x="508" y="311.5">FKPN+L</text>
</g>
<path d="M665 263.75H674V389.6H665" fill="none" stroke="#000" stroke-width="1.2"/>
<text transform="translate(670,332) rotate(90)" font-size="17" text-anchor="middle">***</text>

<!-- ================= Panel d ================= -->
<text x="6" y="466" font-size="21">d</text>
<g font-size="15" text-anchor="middle">
<text x="62" y="468.5">PBS+L</text><text x="162" y="468.5">FKPN</text><text x="263" y="468.5">FKN+L</text><text x="361" y="468.5">FPN+L</text><text x="461" y="468.5">FKPN+L</text>
</g>
<text transform="translate(11,518) rotate(-90)" font-size="14.5" text-anchor="middle"><tspan fill="#1414ff">DAPI</tspan><tspan fill="#ff1414">/CD4</tspan></text>
<text transform="translate(11,619) rotate(-90)" font-size="14.5" text-anchor="middle"><tspan fill="#1414ff">DAPI</tspan><tspan fill="#ff1414">/CD8</tspan></text>
<rect x="14" y="470" width="95.5" height="96" filter="url(#dF0)"/>
<rect x="113.5" y="470" width="95.5" height="96" filter="url(#dF1)"/>
<rect x="213" y="470" width="95.5" height="96" filter="url(#dF2)"/>
<rect x="312.5" y="470" width="95.5" height="96" filter="url(#dF3)"/>
<rect x="412.5" y="470" width="95.5" height="96" filter="url(#dF4)"/>
<rect x="14" y="571" width="95.5" height="96" filter="url(#dF0)"/>
<rect x="113.5" y="571" width="95.5" height="96" filter="url(#dF1)"/>
<rect x="213" y="571" width="95.5" height="96" filter="url(#dF2)"/>
<rect x="312.5" y="571" width="95.5" height="96" filter="url(#dF3)"/>
<rect x="412.5" y="571" width="95.5" height="96" filter="url(#dF4)"/>
<g fill="none" stroke="#b8b8d8" stroke-width="0.8">
<rect x="14" y="470" width="95.5" height="96"/><rect x="113.5" y="470" width="95.5" height="96"/><rect x="213" y="470" width="95.5" height="96"/><rect x="312.5" y="470" width="95.5" height="96"/><rect x="412.5" y="470" width="95.5" height="96"/>
<rect x="14" y="571" width="95.5" height="96"/><rect x="113.5" y="571" width="95.5" height="96"/><rect x="213" y="571" width="95.5" height="96"/><rect x="312.5" y="571" width="95.5" height="96"/><rect x="412.5" y="571" width="95.5" height="96"/>
</g>
<text x="487" y="653" font-size="11" fill="#fff" text-anchor="middle">20 μm</text>
<rect x="477" y="656.5" width="18" height="3" fill="#fff"/>

<!-- ================= Panel e ================= -->
<text x="547" y="467" font-size="21">e</text>
<rect x="587" y="457" width="16" height="13" fill="#808080"/>
<rect x="662" y="457" width="16" height="13" fill="#fbc9ee"/>
<rect x="730" y="457" width="16" height="13" fill="#b9f5c4"/>
<rect x="587" y="478" width="16" height="13" fill="#80bff5"/>
<rect x="662" y="478" width="16" height="13" fill="#fa9f9c"/>
<g font-size="14">
<text x="605" y="471">PBS+L</text><text x="681" y="471">FKPN</text><text x="748" y="471">FKN+L</text>
<text x="607" y="490">FPN+L</text><text x="682" y="490">FKPN+L</text>
</g>
<text transform="translate(562.7,575) rotate(-90)" font-size="13" text-anchor="middle">Marked cell in tumor/field</text>
<rect x="600" y="628.9" width="17" height="16.1" fill="#808080"/>
<rect x="617" y="599.4" width="17" height="45.6" fill="#fbc9ee"/>
<rect x="634" y="588.7" width="17" height="56.3" fill="#b9f5c4"/>
<rect x="651" y="567.3" width="17" height="77.7" fill="#80bff5"/>
<rect x="668" y="537.8" width="17" height="107.2" fill="#fa9f9c"/>
<rect x="701.5" y="627.6" width="17" height="17.4" fill="#808080"/>
<rect x="718.5" y="604.8" width="17" height="40.2" fill="#fbc9ee"/>
<rect x="735.5" y="592.7" width="17" height="52.3" fill="#b9f5c4"/>
<rect x="752.5" y="584.7" width="17" height="60.3" fill="#80bff5"/>
<rect x="769.5" y="548.5" width="17" height="96.5" fill="#fa9f9c"/>
<path d="M592 509V645H787" fill="none" stroke="#000" stroke-width="1.6"/>
<path d="M592 645H588M592 618.2H588M592 591.4H588M592 564.6H588M592 537.8H588M592 511H588M642.5 645V648.5M744 645V648.5" stroke="#000" stroke-width="1.4"/>
<g font-size="12.5" text-anchor="end">
<text x="586" y="649.3">0</text><text x="586" y="622.5">10</text><text x="586" y="595.7">20</text><text x="586" y="568.9">30</text><text x="586" y="542.1">40</text><text x="586" y="515.3">50</text>
</g>
<g fill="none" stroke="#000" stroke-width="1.2">
<path d="M608.5 626.8V631M606 626.8h5M606 631h5"/>
<path d="M625.5 594.6V604.2M623 594.6h5M623 604.2h5"/>
<path d="M642.5 584.7V592.7M640 584.7h5M640 592.7h5"/>
<path d="M659.5 561.9V572.7M657 561.9h5M657 572.7h5"/>
<path d="M676.5 529.8V545.8M674 529.8h5M674 545.8h5"/>
<path d="M710 624.1V631.1M707.5 624.1h5M707.5 631.1h5"/>
<path d="M727 600.5V609.1M724.5 600.5h5M724.5 609.1h5"/>
<path d="M744 588.7V596.7M741.5 588.7h5M741.5 596.7h5"/>
<path d="M761 579.3V590.1M758.5 579.3h5M758.5 590.1h5"/>
<path d="M778 541.8V555.2M775.5 541.8h5M775.5 555.2h5"/>
</g>
<g fill="#000">
<circle cx="604.5" cy="630.3" r="2.3"/><circle cx="608.5" cy="626.2" r="2.3"/><circle cx="612.5" cy="628.1" r="2.3"/>
<circle cx="621.5" cy="604.8" r="2.3"/><circle cx="625.5" cy="595.4" r="2.3"/><circle cx="629.5" cy="599.4" r="2.3"/>
<circle cx="638.5" cy="591.4" r="2.3"/><circle cx="642.5" cy="583.4" r="2.3"/><circle cx="646.5" cy="588.7" r="2.3"/>
<circle cx="659.5" cy="572.6" r="2.3"/><circle cx="659.5" cy="561.9" r="2.3"/><circle cx="659.5" cy="567.3" r="2.3"/>
<circle cx="676.5" cy="545.8" r="2.3"/><circle cx="676.5" cy="529.8" r="2.3"/><circle cx="676.5" cy="536.5" r="2.3"/>
<circle cx="706" cy="628.9" r="2.3"/><circle cx="710" cy="622.2" r="2.3"/><circle cx="714" cy="627.6" r="2.3"/>
<circle cx="723" cy="607.5" r="2.3"/><circle cx="727" cy="599.4" r="2.3"/><circle cx="731" cy="604.8" r="2.3"/>
<circle cx="740" cy="596.8" r="2.3"/><circle cx="744" cy="588.7" r="2.3"/><circle cx="748" cy="591.4" r="2.3"/>
<circle cx="757" cy="588.7" r="2.3"/><circle cx="761" cy="578" r="2.3"/><circle cx="765" cy="584.7" r="2.3"/>
<circle cx="778" cy="553.9" r="2.3"/><circle cx="778" cy="540.5" r="2.3"/><circle cx="778" cy="547.2" r="2.3"/>
</g>
<path d="M607 613V517H675.5V526M709 620V517H777.5V535" fill="none" stroke="#000" stroke-width="1.2"/>
<text x="642" y="520" font-size="14" text-anchor="middle">***</text>
<text x="743" y="520" font-size="14" text-anchor="middle">***</text>
<text x="642" y="663" font-size="13.5" text-anchor="middle">CD4<tspan dy="-6" font-size="9">+</tspan></text>
<text x="743" y="663" font-size="13.5" text-anchor="middle">CD8<tspan dy="-6" font-size="9">+</tspan></text>

<!-- ================= Panel f ================= -->
<text x="1" y="702" font-size="21">f</text>
<text x="198" y="697" font-size="15" text-anchor="middle">H&amp;E</text>
<path d="M63 700.5H335" stroke="#000" stroke-width="1.5"/>
<g font-size="13" text-anchor="middle">
<text x="49" y="716.5">PBS+L</text><text x="115" y="716.5">FKPN</text><text x="195" y="716.5">FKN+L</text><text x="270" y="716.5">FPN+L</text><text x="343" y="716.5">FKPN+L</text>
</g>
<text transform="translate(12,757) rotate(-90)" font-size="13" text-anchor="middle">Primary</text>
<text transform="translate(12,828) rotate(-90)" font-size="13" text-anchor="middle">Distal</text>
<rect x="14" y="719" width="72" height="71" filter="url(#hF0)"/>
<rect x="88" y="719" width="72" height="71" filter="url(#hF1)"/>
<rect x="162" y="719" width="72" height="71" filter="url(#hF2)"/>
<rect x="236" y="719" width="72" height="71" filter="url(#hF3)"/>
<rect x="310" y="719" width="72" height="71" filter="url(#hF4)"/>
<rect x="14" y="793" width="72" height="73" filter="url(#hF0)"/>
<rect x="88" y="793" width="72" height="73" filter="url(#hF2)"/>
<rect x="162" y="793" width="72" height="73" filter="url(#hF1)"/>
<rect x="236" y="793" width="72" height="73" filter="url(#hF3)"/>
<rect x="310" y="793" width="72" height="73" filter="url(#hF5)"/>
<text x="361.5" y="853" font-size="11" fill="#fff" text-anchor="middle">100 μm</text>
<rect x="350" y="857" width="23" height="3" fill="#fff"/>

<!-- ================= Panel g ================= -->
<text x="421" y="698" font-size="21">g</text>
<text x="615" y="697" font-size="14" text-anchor="middle"><tspan fill="#1a1aff">DAPI</tspan><tspan fill="#000">/</tspan><tspan fill="#19c45a">TUNEL</tspan></text>
<path d="M478 700.5H752" stroke="#000" stroke-width="1.5"/>
<g font-size="13" text-anchor="middle">
<text x="468" y="716.5">PBS+L</text><text x="540" y="716.5">FKPN</text><text x="615" y="716.5">FKN+L</text><text x="687" y="716.5">FPN+L</text><text x="762" y="716.5">FKPN+L</text>
</g>
<text transform="translate(428,755) rotate(-90)" font-size="13" text-anchor="middle">Primary</text>
<text transform="translate(428,827) rotate(-90)" font-size="13" text-anchor="middle">Distal</text>
<rect x="431" y="719" width="72" height="71" filter="url(#gF0)"/>
<rect x="504.5" y="719" width="72" height="71" filter="url(#gF1)"/>
<rect x="578" y="719" width="72" height="71" filter="url(#gF2)"/>
<rect x="651.5" y="719" width="72" height="71" filter="url(#gF3)"/>
<rect x="725" y="719" width="72" height="71" filter="url(#gF4)"/>
<rect x="431" y="793" width="72" height="73" filter="url(#gF0)"/>
<rect x="504.5" y="793" width="72" height="73" filter="url(#gF1)"/>
<rect x="578" y="793" width="72" height="73" filter="url(#gF2)"/>
<rect x="651.5" y="793" width="72" height="73" filter="url(#gF2)"/>
<rect x="725" y="793" width="72" height="73" filter="url(#gF4)"/>
<rect x="504.5" y="719" width="72" height="71" fill="url(#gg1)"/>
<rect x="651.5" y="719" width="72" height="71" fill="url(#gg2)"/>
<rect x="431" y="793" width="72" height="73" fill="url(#gg3)"/>
<rect x="725" y="719" width="72" height="71" fill="#3cc47a" opacity="0.28"/>
<rect x="725" y="793" width="72" height="73" fill="#3cc47a" opacity="0.22"/>
<rect x="725" y="719" width="72" height="71" fill="url(#gg3)"/>
<g fill="none" stroke="#b8b8d8" stroke-width="0.8">
<rect x="431" y="719" width="72" height="71"/><rect x="504.5" y="719" width="72" height="71"/><rect x="578" y="719" width="72" height="71"/><rect x="651.5" y="719" width="72" height="71"/><rect x="725" y="719" width="72" height="71"/>
<rect x="431" y="793" width="72" height="73"/><rect x="504.5" y="793" width="72" height="73"/><rect x="578" y="793" width="72" height="73"/><rect x="651.5" y="793" width="72" height="73"/><rect x="725" y="793" width="72" height="73"/>
</g>
<text x="776" y="853" font-size="11" fill="#fff" text-anchor="middle">50 μm</text>
<rect x="763" y="857" width="29" height="3" fill="#fff"/>
</svg>
</body></html>
